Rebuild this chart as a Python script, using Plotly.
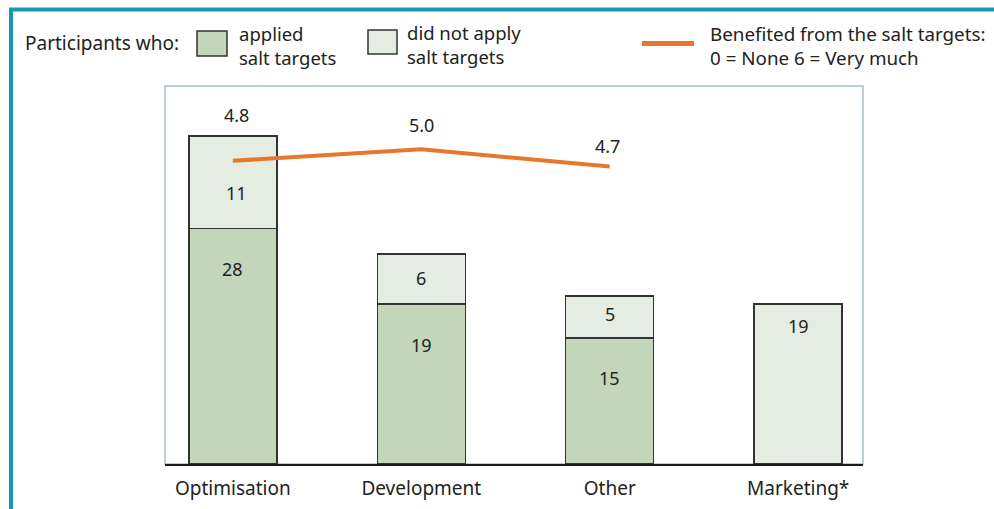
import plotly.graph_objects as go

# ---- data ----
categories = ["Optimisation", "Development", "Other", "Marketing*"]
applied = [28, 19, 15, None]
not_applied = [11, 6, 5, 19]
benefit_categories = ["Optimisation", "Development", "Other"]
benefit = [4.8, 5.0, 4.7]
benefit_labels = ["4.8", "5.0", "4.7"]

# ---- styling ----
W, H = 994, 509
ML, MR, MT, MB = 165, 994 - 863, 86, 509 - 464
PW, PH = W - ML - MR, H - MT - MB
FONT = "Noto Sans"
TXT = "#222222"
C_APPLIED = "#c3d6ba"
C_NOT = "#e5ede2"
C_EDGE = "#333333"
C_ORANGE = "#e8772a"
C_TEAL = "#1a95b2"


def px(x):
    return (x - ML) / PW


def py(y):
    return (H - MB - y) / PH


fig = go.Figure()
fig.add_trace(go.Bar(
    x=categories, y=applied, name="applied salt targets",
    marker=dict(color=C_APPLIED, line=dict(color=C_EDGE, width=1.5)),
    width=0.467, showlegend=False, hoverinfo="skip"))
fig.add_trace(go.Bar(
    x=categories, y=not_applied, name="did not apply salt targets",
    marker=dict(color=C_NOT, line=dict(color=C_EDGE, width=1.5)),
    width=0.467, showlegend=False, hoverinfo="skip"))
fig.add_trace(go.Scatter(
    x=benefit_categories, y=benefit, yaxis="y2", mode="lines",
    line=dict(color=C_ORANGE, width=4), showlegend=False, hoverinfo="skip"))

annotations = []
# bar labels (shift below segment top, in px)
applied_shift = [-40, -41, -40, 0]
not_shift = [-57, -24, -18, -22]
not_xshift = [4, 0, 0, 0]
for i, c in enumerate(categories):
    a = applied[i] or 0
    if applied[i]:
        annotations.append(dict(x=c, y=a, xref="x", yref="y", text=str(applied[i]),
                                showarrow=False, yanchor="middle", yshift=applied_shift[i],
                                font=dict(size=18, color=TXT, family=FONT)))
    annotations.append(dict(x=c, y=a + not_applied[i], xref="x", yref="y",
                            text=str(not_applied[i]), showarrow=False, yanchor="middle",
                            yshift=not_shift[i], xshift=not_xshift[i],
                            font=dict(size=18, color=TXT, family=FONT)))
# benefit labels
b_yshift = [46, 24, 21]
b_xshift = [4, 0, -2]
for i, c in enumerate(benefit_categories):
    annotations.append(dict(x=c, y=benefit[i], xref="x", yref="y2", text=benefit_labels[i],
                            showarrow=False, yanchor="middle", yshift=b_yshift[i],
                            xshift=b_xshift[i],
                            font=dict(size=18, color=TXT, family=FONT)))


def label(x, y, text, size=18.5):
    annotations.append(dict(x=px(x), y=py(y), xref="paper", yref="paper", text=text,
                            showarrow=False, xanchor="left", yanchor="middle", align="left",
                            font=dict(size=size, color=TXT, family=FONT)))


label(23, 43, "Participants who:", 19)
label(237, 45.5, "applied<br>salt targets")
label(405, 44.5, "did not apply<br>salt targets")
label(708, 46, "Benefited from the salt targets:<br>0 = None 6 = Very much", 18.8)

shapes = [
    # plot frame
    dict(type="rect", xref="paper", yref="paper", x0=0, x1=1, y0=0, y1=1,
         line=dict(color="#a9bcc6", width=1.5), layer="below"),
    # outer teal frame (left & top)
    dict(type="line", xref="paper", yref="paper", x0=px(11), x1=px(11), y0=py(9.5), y1=py(530),
         line=dict(color=C_TEAL, width=4)),
    dict(type="line", xref="paper", yref="paper", x0=px(9), x1=px(1010), y0=py(9.5), y1=py(9.5),
         line=dict(color=C_TEAL, width=4)),
    # legend swatches
    dict(type="rect", xref="paper", yref="paper", x0=px(197), x1=px(227), y0=py(31), y1=py(56),
         fillcolor=C_APPLIED, line=dict(color=C_EDGE, width=1.5)),
    dict(type="rect", xref="paper", yref="paper", x0=px(368), x1=px(397), y0=py(30), y1=py(54),
         fillcolor=C_NOT, line=dict(color=C_EDGE, width=1.5)),
    dict(type="line", xref="paper", yref="paper", x0=px(642), x1=px(694), y0=py(43.5), y1=py(43.5),
         line=dict(color=C_ORANGE, width=5)),
]

fig.update_layout(
    width=W, height=H,
    margin=dict(l=ML, r=MR, t=MT, b=MB, autoexpand=False),
    paper_bgcolor="white", plot_bgcolor="white",
    barmode="stack",
    font=dict(family=FONT, size=18, color=TXT),
    xaxis=dict(range=[-0.36, 3.344], showgrid=False, zeroline=False, automargin=False,
               showline=True, linecolor="#1a1a1a", linewidth=2,
               ticks="", ticklabelstandoff=6, tickfont=dict(size=19, color=TXT, family=FONT),
               fixedrange=True),
    yaxis=dict(range=[0, 44.95], visible=False, showgrid=False, zeroline=False,
               automargin=False, fixedrange=True),
    yaxis2=dict(range=[-0.47, 6.1], overlaying="y", visible=False, showgrid=False,
                zeroline=False, automargin=False, fixedrange=True),
    annotations=annotations,
    shapes=shapes,
)

fig.write_html("out.html", config={"displayModeBar": False},
               post_script="document.body.style.margin='0px';document.body.style.overflow='hidden';")
